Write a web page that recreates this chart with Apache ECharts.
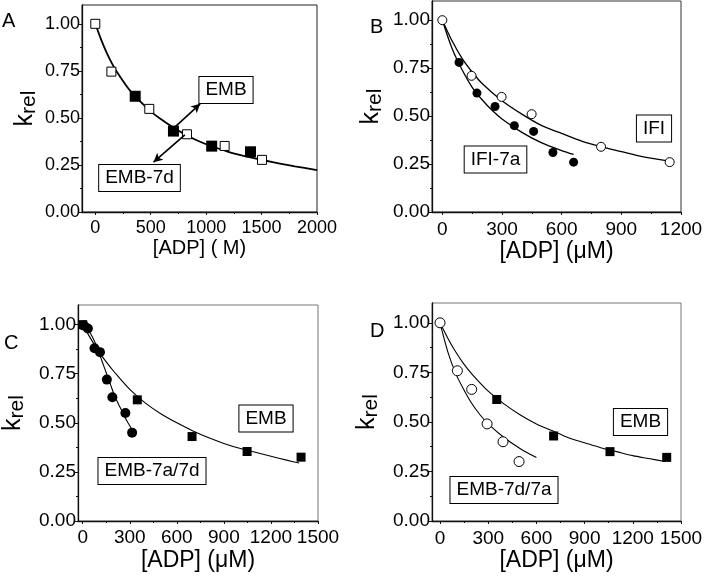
<!DOCTYPE html>
<html><head><meta charset="utf-8">
<script src="https://cdn.jsdelivr.net/npm/echarts@6/dist/echarts.min.js"></script>
<style>html,body{margin:0;padding:0;background:#fff}#c{width:710px;height:583px}</style>
</head><body><div id="c"></div><script>
// ---------- Panel A ----------
const aFilledX = [360, 705, 1050, 1400];
const aFilledY = [0.615, 0.43, 0.35, 0.32];
const aOpenX = [0, 145, 487, 827, 1167, 1504];
const aOpenY = [1.00, 0.746, 0.548, 0.413, 0.351, 0.277];
const aFitX = [0, 50, 100, 150, 200, 300, 400, 500, 600, 700, 800, 900, 1000, 1200, 1400, 1600, 1800, 2000];
const aFitY = [1.0, 0.92, 0.85, 0.79, 0.74, 0.655, 0.59, 0.535, 0.49, 0.45, 0.415, 0.385, 0.36, 0.32, 0.29, 0.265, 0.243, 0.223];
const aXTicks = [0, 500, 1000, 1500, 2000];
const aXMinor = [250, 750, 1250, 1750];
// ---------- Panel B ----------
const bOpenX = [0, 147, 298, 449, 798, 1143];
const bOpenY = [1.00, 0.71, 0.60, 0.51, 0.34, 0.26];
const bFilledX = [84, 174, 265, 362, 459, 556, 660];
const bFilledY = [0.78, 0.62, 0.55, 0.45, 0.42, 0.31, 0.26];
const bFitOpenX = [0, 50, 100, 150, 200, 300, 400, 500, 600, 700, 800, 900, 1000, 1140];
const bFitOpenY = [1.0, 0.89, 0.80, 0.73, 0.67, 0.58, 0.51, 0.45, 0.41, 0.37, 0.34, 0.315, 0.29, 0.265];
const bFitFilledX = [0, 50, 100, 150, 200, 250, 300, 400, 500, 600, 660];
const bFitFilledY = [1.0, 0.85, 0.74, 0.65, 0.585, 0.53, 0.485, 0.415, 0.36, 0.32, 0.30];
const bXTicks = [0, 300, 600, 900, 1200];
const bXMinor = [150, 450, 750, 1050];
// ---------- Panel C ----------
const cSquareX = [0, 348, 697, 1048, 1392];
const cSquareY = [1.00, 0.617, 0.43, 0.354, 0.325];
const cCircleX = [8, 33, 75, 110, 154, 189, 272, 315];
const cCircleY = [0.995, 0.98, 0.88, 0.86, 0.72, 0.63, 0.55, 0.45];
const cFitSqX = [0, 50, 100, 150, 200, 300, 400, 500, 600, 700, 800, 900, 1000, 1100, 1200, 1300, 1380];
const cFitSqY = [1.0, 0.93, 0.865, 0.81, 0.76, 0.67, 0.60, 0.545, 0.50, 0.46, 0.425, 0.395, 0.37, 0.35, 0.33, 0.31, 0.295];
const cFitCiX = [0, 25, 50, 75, 100, 125, 150, 175, 200, 225, 250, 275, 300, 320];
const cFitCiY = [1.0, 0.985, 0.955, 0.915, 0.865, 0.81, 0.755, 0.70, 0.645, 0.60, 0.56, 0.52, 0.485, 0.46];
const cXTicks = [0, 300, 600, 900, 1200, 1500];
const cXMinor = [150, 450, 750, 1050, 1350];
// ---------- Panel D ----------
const dOpenX = [0, 108, 197, 293, 392, 492];
const dOpenY = [1.00, 0.758, 0.664, 0.49, 0.40, 0.30];
const dSquareX = [353, 707, 1058, 1411];
const dSquareY = [0.613, 0.429, 0.35, 0.321];
const dFitSqX = [0, 50, 100, 150, 200, 300, 400, 500, 600, 700, 800, 900, 1000, 1100, 1200, 1300, 1400];
const dFitSqY = [1.0, 0.92, 0.85, 0.79, 0.74, 0.655, 0.59, 0.535, 0.49, 0.455, 0.42, 0.395, 0.37, 0.35, 0.33, 0.315, 0.30];
const dFitOpX = [0, 50, 100, 150, 200, 250, 300, 400, 500, 600];
const dFitOpY = [1.0, 0.85, 0.74, 0.66, 0.59, 0.535, 0.49, 0.42, 0.365, 0.32];
const dXTicks = [0, 300, 600, 900, 1200, 1500];
const dXMinor = [150, 450, 750, 1050, 1350];
// ---------- shared ----------
const yTicks = [0, 0.25, 0.5, 0.75, 1.0];
const yMinor = [0.125, 0.375, 0.625, 0.875];
const panelLetters = ['A', 'B', 'C', 'D'];
const xTitles = ['[ADP] ( M)', '[ADP] (\u03bcM)', '[ADP] (\u03bcM)', '[ADP] (\u03bcM)'];
const boxLabels = [['EMB', 'EMB-7d'], ['IFI', 'IFI-7a'], ['EMB', 'EMB-7a/7d'], ['EMB', 'EMB-7d/7a']];

const zip = (xs, ys) => xs.map((x, i) => [x, ys[i]]);
const FONT = '"Liberation Sans", Arial, sans-serif';

const panels = [
  {grid: {left: 82, top: 5, width: 235, height: 207}, xmin: -120, xmax: 2000, xt: aXTicks, xm: aXMinor, lf: 18, nf: 20, border: '#222', lm: 7, nameGap: 26, yGap: 42},
  {grid: {left: 432, top: 1, width: 249, height: 211}, xmin: -52, xmax: 1200, xt: bXTicks, xm: bXMinor, lf: 19, nf: 23, border: '#333', lm: 8, nameGap: 25, yGap: 46},
  {grid: {left: 73, top: 305, width: 245, height: 216}, xmin: -30, xmax: 1500, xt: cXTicks, xm: cXMinor, lf: 19, nf: 23, border: '#777', lm: 7, nameGap: 28, yGap: 50},
  {grid: {left: 432, top: 303, width: 249, height: 218}, xmin: -50, xmax: 1500, xt: dXTicks, xm: dXMinor, lf: 19, nf: 23, border: '#777', lm: 8, nameGap: 21, yGap: 50}
];

const grids = [], xAxes = [], yAxes = [];
panels.forEach((p, i) => {
  grids.push(Object.assign({show: true, borderColor: p.border, borderWidth: 1, backgroundColor: 'transparent'}, p.grid));
  const lbl = {fontSize: p.lf, color: '#000', fontFamily: FONT};
  xAxes.push({type: 'value', gridIndex: i, min: p.xmin, max: p.xmax, position: 'bottom',
    axisLine: {show: true, onZero: false, lineStyle: {color: '#111', width: 1.3}},
    axisTick: {show: true, customValues: p.xt, length: 3, lineStyle: {color: '#111'}},
    axisLabel: Object.assign({customValues: p.xt, margin: p.lm, formatter: v => String(v)}, lbl),
    splitLine: {show: false},
    name: xTitles[i], nameLocation: 'middle', nameGap: p.nameGap,
    nameTextStyle: {fontSize: p.nf, color: '#000', fontFamily: FONT}});
  xAxes.push({type: 'value', gridIndex: i, min: p.xmin, max: p.xmax, position: 'bottom',
    axisLine: {show: false, onZero: false}, axisTick: {show: true, customValues: p.xm, length: 2, lineStyle: {color: '#111'}},
    axisLabel: {show: false}, splitLine: {show: false}});
  yAxes.push({type: 'value', gridIndex: i, min: 0, max: 1.1, position: 'left',
    axisLine: {show: true, onZero: false, lineStyle: {color: '#111', width: 1.3}},
    axisTick: {show: true, customValues: yTicks, length: 3, lineStyle: {color: '#111'}},
    axisLabel: Object.assign({customValues: yTicks, margin: 2, formatter: v => v.toFixed(2)}, lbl),
    splitLine: {show: false},
    name: '{k|k}{s|rel}', nameLocation: 'middle', nameRotate: 90, nameGap: p.yGap,
    nameTextStyle: {color: '#000', fontFamily: FONT, rich: {
      k: {fontSize: 25, fontFamily: FONT, color: '#000'},
      s: {fontSize: 21, fontFamily: FONT, color: '#000', padding: [8, 0, 0, 0]}}}});
  yAxes.push({type: 'value', gridIndex: i, min: 0, max: 1.1, position: 'left',
    axisLine: {show: false, onZero: false}, axisTick: {show: true, customValues: yMinor, length: 2, lineStyle: {color: '#111'}},
    axisLabel: {show: false}, splitLine: {show: false}});
});

const fit = (i, xs, ys, w) => ({type: 'line', xAxisIndex: 2 * i, yAxisIndex: 2 * i, data: zip(xs, ys), showSymbol: false, smooth: 0.3,
  lineStyle: {color: '#000', width: w || 1.3}, silent: true, z: 2});
const pts = (i, xs, ys, symbol, size, open) => ({type: 'scatter', xAxisIndex: 2 * i, yAxisIndex: 2 * i, data: zip(xs, ys),
  symbol: symbol, symbolSize: size, z: open ? 4 : 3,
  itemStyle: open ? {color: '#fff', borderColor: '#000', borderWidth: 1, opacity: 1} : {color: '#000', opacity: 1}});

const arrowSeries = {type: 'scatter', xAxisIndex: 0, yAxisIndex: 0, data: [], silent: true,
  markLine: {silent: true, symbol: ['none', 'arrow'], symbolSize: [7, 9], label: {show: false},
    lineStyle: {color: '#000', width: 1.6, type: 'solid'},
    data: [
      [{coord: [725, 0.455]}, {coord: [946, 0.575]}],
      [{coord: [808, 0.41]}, {coord: [525, 0.265]}]
    ]}};

const series = [
  fit(0, aFitX, aFitY, 1.8), pts(0, aFilledX, aFilledY, 'rect', 11, false), pts(0, aOpenX, aOpenY, 'rect', 9, true), arrowSeries,
  fit(1, bFitOpenX, bFitOpenY), fit(1, bFitFilledX, bFitFilledY), pts(1, bOpenX, bOpenY, 'circle', 9, true), pts(1, bFilledX, bFilledY, 'circle', 9, false),
  fit(2, cFitSqX, cFitSqY, 1.1), fit(2, cFitCiX, cFitCiY, 1.1), pts(2, cSquareX, cSquareY, 'rect', 9, false), pts(2, cCircleX, cCircleY, 'circle', 10, false),
  fit(3, dFitSqX, dFitSqY, 1.1), fit(3, dFitOpX, dFitOpY, 1.1), pts(3, dOpenX, dOpenY, 'circle', 10, true), pts(3, dSquareX, dSquareY, 'rect', 9, false)
];

const letterPos = [[2, 11], [370, 17], [4, 333], [370, 321]];
const boxPos = [[[226, 90], [139.5, 178]], [[654, 128.5], [495.5, 159.5]], [[266, 418.5], [152, 471]], [[640.5, 422], [504, 490]]];
const graphic = [];
panels.forEach((p, i) => {
  graphic.push({type: 'text', x: letterPos[i][0], y: letterPos[i][1], style: {text: panelLetters[i], fontSize: 20, fontFamily: FONT, fill: '#000'}});
  boxLabels[i].forEach((t, j) => {
    graphic.push({type: 'text', x: boxPos[i][j][0], y: boxPos[i][j][1], z: 10,
      style: {text: t, fontSize: 19, fontFamily: FONT, fill: '#000', align: 'center', verticalAlign: 'middle',
        backgroundColor: '#fff', borderColor: '#000', borderWidth: 1, padding: [4, 6, 3, 6]}});
  });
});

const chart = echarts.init(document.getElementById('c'), null, {renderer: 'canvas'});
chart.setOption({animation: false, backgroundColor: '#fff', grid: grids, xAxis: xAxes, yAxis: yAxes, series: series, graphic: graphic});
</script></body></html>
